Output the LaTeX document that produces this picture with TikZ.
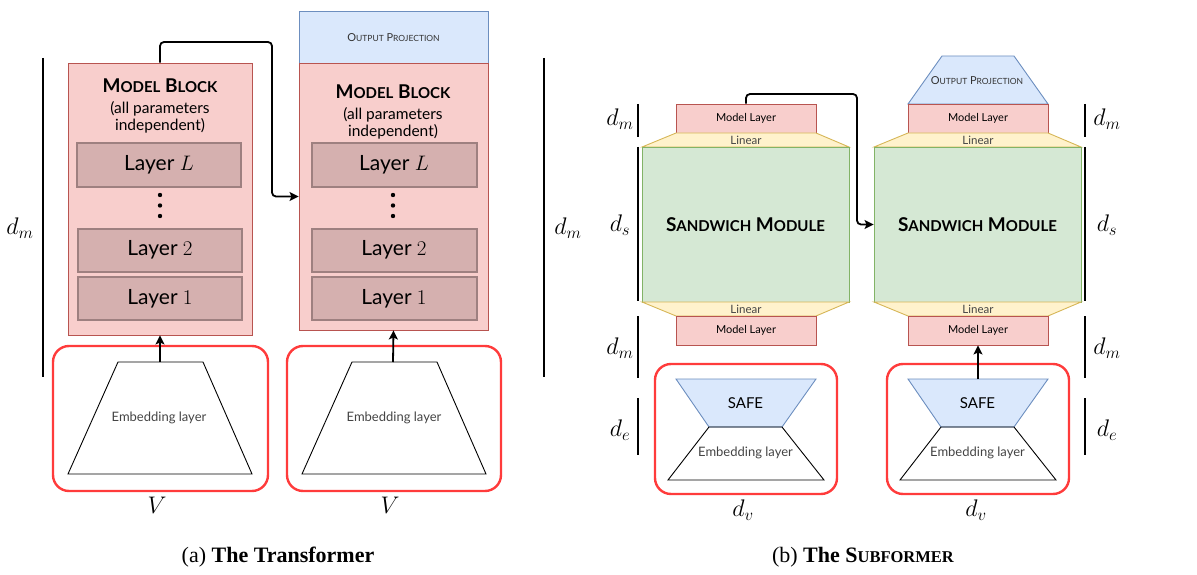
\RequirePackage{fix-cm}
\documentclass[tikz,border=0pt]{standalone}
\usepackage[no-math]{fontspec}
\newfontfamily\dg{Lato}
\newfontfamily\cf{Liberation Serif}
\usetikzlibrary{arrows.meta}
\definecolor{pinkf}{HTML}{F8CECC}
\definecolor{pinkd}{HTML}{B85450}
\definecolor{layf}{HTML}{D5B0AF}
\definecolor{layd}{HTML}{9E8080}
\definecolor{bluef}{HTML}{DAE8FC}
\definecolor{blued}{HTML}{6C8EBF}
\definecolor{yelf}{HTML}{FFF2CC}
\definecolor{yeld}{HTML}{D6B656}
\definecolor{grnf}{HTML}{D5E8D4}
\definecolor{grnd}{HTML}{82B366}
\definecolor{redb}{HTML}{FF3B3B}
\definecolor{txtg}{HTML}{444444}
\newcommand\fakesc[3]{#1{\fontsize{#3}{#3}\selectfont #2}}
\tikzset{
  pinkbox/.style={draw=pinkd, fill=pinkf, line width=0.9pt, inner sep=0pt},
  laybox/.style={draw=layd, fill=layf, line width=2pt, inner sep=0pt, minimum height=43pt,
    font=\dg\fontsize{21}{21}\selectfont},
  bluebox/.style={draw=blued, fill=bluef, line width=0.9pt, inner sep=0pt},
  yelshape/.style={draw=yeld, fill=yelf, line width=0.9pt},
  grnbox/.style={draw=grnd, fill=grnf, line width=0.9pt, inner sep=0pt},
  redbox/.style={draw=redb, line width=2.4pt, rounded corners=16pt, inner sep=0pt},
  embshape/.style={draw=black, line width=0.9pt},
  safeshape/.style={draw=blued, fill=bluef, line width=0.9pt},
  conn/.style={-{Stealth[length=9pt,width=9pt,inset=2pt]}, line width=1.8pt, rounded corners=4pt},
  ruler/.style={line width=2.2pt},
  mlab/.style={inner sep=0pt, font=\fontsize{24}{24}\selectfont},
  emblab/.style={inner sep=0pt, text=txtg, font=\dg\fontsize{13}{13}\selectfont},
  smalllab/.style={inner sep=0pt, font=\dg\fontsize{11}{11}\selectfont},
  linlab/.style={inner sep=0pt, text=txtg, font=\dg\fontsize{11.5}{11.5}\selectfont},
  mbtitle/.style={inner sep=0pt, font=\dg\bfseries\fontsize{19}{19}\selectfont},
  mbsub/.style={inner sep=0pt, align=center, font=\dg\fontsize{15.5}{17}\selectfont},
  swlab/.style={inner sep=0pt, font=\dg\bfseries\fontsize{19}{19}\selectfont},
  caplab/.style={inner sep=0pt, font=\cf\fontsize{22}{22}\selectfont},
}
\begin{document}
\begin{tikzpicture}[x=1pt,y=-1pt]
\useasboundingbox (0,0) rectangle (1197,575);

% ================= (a) The Transformer =================
% rulers
\draw[ruler] (43,58) -- (43,377);
\draw[ruler] (544,58) -- (544,377);
\node[mlab] (adml) at (20,228) {$d_m$};
\node[mlab] (admr) at (568,228) {$d_m$};

% left model block
\node[pinkbox, minimum width=184pt, minimum height=272pt] (lblock) at (160,199) {};
\node[mbtitle] (lmbt) at (160,86) {\fakesc{M}{ODEL}{15} \fakesc{B}{LOCK}{15}};
\node[mbsub] (lmbs) at (160,117) {(all parameters\\independent)};
\node[laybox, minimum width=164pt] (lL) at (159,165) {Layer $L$};
\fill (160,195) circle (2.2pt) (160,205.5) circle (2.2pt) (160,216) circle (2.2pt);
\node[laybox, minimum width=164pt] (l2) at (160,250) {Layer $2$};
\node[laybox, minimum width=164pt] (l1) at (160,298.5) {Layer $1$};

% right model block
\node[bluebox, minimum width=189pt, minimum height=52pt] (rout) at (393.5,37) {};
\node[smalllab, text=black!80] (routt) at (393.5,38) {\fakesc{O}{UTPUT}{8.5} \fakesc{P}{ROJECTION}{8.5}};
\node[pinkbox, minimum width=189pt, minimum height=267pt] (rblock) at (393.5,196.5) {};
\node[mbtitle] (rmbt) at (393,92) {\fakesc{M}{ODEL}{15} \fakesc{B}{LOCK}{15}};
\node[mbsub] (rmbs) at (393,123) {(all parameters\\independent)};
\node[laybox, minimum width=165pt] (rL) at (394,165) {Layer $L$};
\fill (393,195) circle (2.2pt) (393,205.5) circle (2.2pt) (393,216) circle (2.2pt);
\node[laybox, minimum width=165pt] (r2) at (394,250) {Layer $2$};
\node[laybox, minimum width=165pt] (r1) at (394,298.5) {Layer $1$};

% connector between blocks
\draw[conn] (lblock.north) |- (272,42) |- (rblock.west);

% embedding boxes
\node[redbox, minimum width=215pt, minimum height=145pt] (lred) at (160.5,418.5) {};
\draw[embshape] (118,362) -- (203,362) -- (252,474) -- (68,474) -- cycle;
\coordinate (lembtop) at (160,362);
\node[emblab] (lembt) at (159,418) {Embedding layer};
\draw[conn] (lembtop) -- (lblock.south);
\node[mlab] (lV) at (157,505) {$V$};

\node[redbox, minimum width=214pt, minimum height=145pt] (rred) at (394,418.5) {};
\draw[embshape] (352,362) -- (437,362) -- (486,474) -- (302,474) -- cycle;
\coordinate (rembtop) at (393,362);
\node[emblab] (rembt) at (394,418) {Embedding layer};
\draw[conn] (rembtop) -- (rblock.south);
\node[mlab] (rV) at (390,505) {$V$};

\node[caplab] (capa) at (278,557) {(a) \textbf{The Transformer}};

% ================= (b) The Subformer =================
% rulers
\foreach \xx in {638,1085}{
  \draw[ruler] (\xx,104) -- (\xx,137);
  \draw[ruler] (\xx,147) -- (\xx,301);
  \draw[ruler] (\xx,316) -- (\xx,378);
  \draw[ruler] (\xx,398) -- (\xx,455);
}
\node[mlab] (bdm1) at (620,119) {$d_m$};
\node[mlab] (bds1) at (620,225) {$d_s$};
\node[mlab] (bdm2) at (620,348) {$d_m$};
\node[mlab] (bde1) at (620,430) {$d_e$};
\node[mlab] (bdm3) at (1107,119) {$d_m$};
\node[mlab] (bds2) at (1107,225) {$d_s$};
\node[mlab] (bdm4) at (1107,348) {$d_m$};
\node[mlab] (bde2) at (1107,430) {$d_e$};

% left column
\node[pinkbox, minimum width=140pt, minimum height=29pt, smalllab] (sl_top) at (746,118.5) {Model Layer};
\draw[yelshape] (676,133) -- (816,133) -- (849,147) -- (642,147) -- cycle;
\node[linlab] (sl_lin1) at (746,140.5) {Linear};
\node[grnbox, minimum width=207pt, minimum height=155pt] (sl_sw) at (745.5,224.5) {};
\node[swlab] (sl_swt) at (745.5,225) {\fakesc{S}{ANDWICH}{15} \fakesc{M}{ODULE}{15}};
\draw[yelshape] (642,302) -- (849,302) -- (816,316) -- (676,316) -- cycle;
\node[linlab] (sl_lin2) at (746,309.5) {Linear};
\node[pinkbox, minimum width=140pt, minimum height=29pt, smalllab] (sl_bot) at (746,330.5) {Model Layer};

\node[redbox, minimum width=182pt, minimum height=130pt] (sl_red) at (746,429) {};
\draw[safeshape] (676,379) -- (816,379) -- (782,427) -- (709,427) -- cycle;
\node[inner sep=0pt, font=\dg\fontsize{15}{15}\selectfont] (sl_safe) at (745.5,403) {SAFE};
\draw[embshape] (709,427) -- (782,427) -- (824,480) -- (668,480) -- cycle;
\node[emblab] (sl_emb) at (745.5,453) {Embedding layer};
\node[mlab] (sl_dv) at (743,510) {$d_v$};

% right column
\draw[safeshape] (942,56) -- (1014,56) -- (1048,104) -- (908,104) -- cycle;
\node[smalllab, text=black!80] (sr_out) at (977,81) {\fakesc{O}{UTPUT}{8.5} \fakesc{P}{ROJECTION}{8.5}};
\node[pinkbox, minimum width=140pt, minimum height=29pt, smalllab] (sr_top) at (978,118.5) {Model Layer};
\draw[yelshape] (908,133) -- (1048,133) -- (1081,147) -- (874,147) -- cycle;
\node[linlab] (sr_lin1) at (978,140.5) {Linear};
\node[grnbox, minimum width=207pt, minimum height=155pt] (sr_sw) at (977.5,224.5) {};
\node[swlab] (sr_swt) at (977.5,225) {\fakesc{S}{ANDWICH}{15} \fakesc{M}{ODULE}{15}};
\draw[yelshape] (874,302) -- (1081,302) -- (1048,316) -- (908,316) -- cycle;
\node[linlab] (sr_lin2) at (978,309.5) {Linear};
\node[pinkbox, minimum width=140pt, minimum height=29pt, smalllab] (sr_bot) at (978,330.5) {Model Layer};

\node[redbox, minimum width=182pt, minimum height=130pt] (sr_red) at (978,429) {};
\draw[safeshape] (908,379) -- (1048,379) -- (1014,427) -- (941,427) -- cycle;
\node[inner sep=0pt, font=\dg\fontsize{15}{15}\selectfont] (sr_safe) at (977.5,403) {SAFE};
\draw[embshape] (941,427) -- (1014,427) -- (1056,480) -- (900,480) -- cycle;
\node[emblab] (sr_emb) at (977.5,453) {Embedding layer};
\node[mlab] (sr_dv) at (976,510) {$d_v$};

% connectors
\draw[conn] (sl_top.north) |- (857,94) |- (sr_sw.west);
\coordinate (sr_safetop) at (978,379);
\draw[conn] (sr_safetop) -- (sr_bot.south);

\node[caplab] (capb) at (863,557) {(b) \textbf{The S\fakesc{}{UBFORMER}{16.5}}};
\end{tikzpicture}
\end{document}
